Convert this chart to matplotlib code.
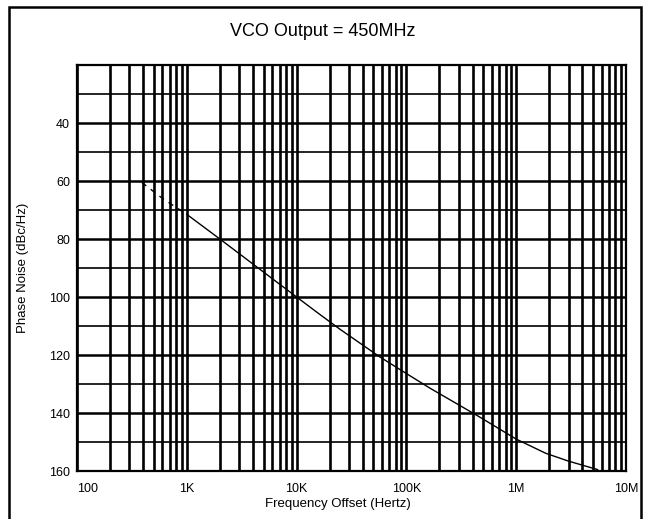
import numpy as np
import matplotlib.pyplot as plt
from matplotlib.patches import Rectangle

plt.rcParams['font.family'] = ['Liberation Sans', 'DejaVu Sans']

freq_dash = [390, 600, 1000]
noise_dash = [60.5, 66.0, 71.5]
freq_solid = [1000, 2000, 5000, 10000, 16000, 25000, 57000, 100000, 165000,
              461000, 1000000, 1860000, 3000000, 5500000]
noise_solid = [71.5, 80.0, 91.4, 100.0, 105.8, 111.2, 120.6, 126.4, 131.5,
               141.3, 149.0, 153.9, 156.6, 159.5]

xticks = [100, 1e3, 1e4, 1e5, 1e6, 1e7]
xtick_labels = ['100', '1K', '10K', '100K', '1M', '10M']
yticks = [40, 60, 80, 100, 120, 140, 160]

W, H = 646, 519
fig = plt.figure(figsize=(W / 100, H / 100), dpi=100)
ax = fig.add_axes([77 / W, 1 - 471 / H, (626 - 77) / W, (471 - 65) / H])

ax.plot(freq_dash, noise_dash, color='black', lw=1.0, ls=(0, (4, 4)), zorder=3)
ax.plot(freq_solid, noise_solid, color='black', lw=1.0, zorder=3)

ax.set_xscale('log')
ax.set_xlim(100, 1e7)
ax.set_ylim(160, 20)

# grid: every 1-9 per decade, every 10 dB
for dec in [100, 1e3, 1e4, 1e5, 1e6]:
    for m in range(1, 10):
        ax.axvline(dec * m, color='black', lw=1.9, zorder=1)
for v in range(30, 160, 10):
    ax.axhline(v, color='black', lw=1.8 if v % 20 == 0 else 1.2, zorder=1)

ax.set_xticks(xticks)
ax.set_xticklabels(xtick_labels)
ax.set_yticks(yticks)
ax.minorticks_off()
ax.tick_params(axis='both', length=0, labelsize=9)
ax.tick_params(axis='x', pad=9)
ax.tick_params(axis='y', pad=5)
ax.get_xticklabels()[0].set_horizontalalignment('left')
for s in ax.spines.values():
    s.set_linewidth(1.6)

fig.text(0.5, 1 - 32 / H, 'VCO Output = 450MHz', ha='center', va='center', fontsize=13)
fig.text(338 / W, 1 - 504 / H, 'Frequency Offset (Hertz)', ha='center', va='center', fontsize=9.5)
fig.text(23 / W, 1 - 268 / H, 'Phase Noise (dBc/Hz)', ha='center', va='center',
         rotation=90, fontsize=9.5)

fig.patches.append(Rectangle((9 / W, -0.01), (641 - 9) / W, 1.01 - 7 / H,
                             transform=fig.transFigure, fill=False,
                             edgecolor='black', lw=1.8))

fig.savefig('out.png', dpi=100)
